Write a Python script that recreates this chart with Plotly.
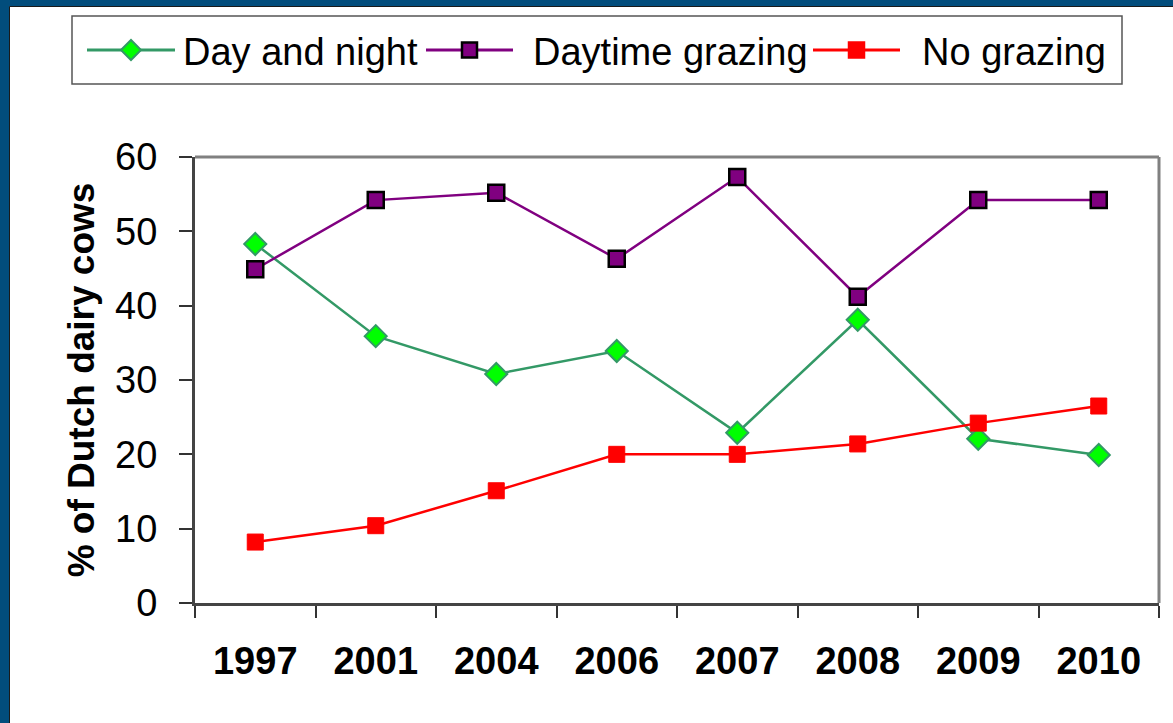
import plotly.graph_objects as go

years = ["1997", "2001", "2004", "2006", "2007", "2008", "2009", "2010"]
day_and_night = [48.3, 35.9, 30.8, 33.9, 22.9, 38.1, 22.1, 19.9]
daytime_grazing = [44.9, 54.2, 55.2, 46.3, 57.3, 41.2, 54.2, 54.2]
no_grazing = [8.2, 10.4, 15.1, 20.0, 20.0, 21.4, 24.2, 26.5]
series_names = ["Day and night", "Daytime grazing", "No grazing"]

W, H = 1173, 723
L, R, T, B = 195, 1159, 157, 603
FONT = "Liberation Sans, Arial, sans-serif"

GREEN_LINE, GREEN_FILL = "#339966", "#00FF00"
PURPLE = "#800080"
RED = "#FF0000"


def px(x):
    return (x - L) / (R - L)


def py(y):
    return (B - y) / (B - T)


fig = go.Figure()
fig.add_trace(go.Scatter(
    x=years, y=day_and_night, name=series_names[0], mode="lines+markers", showlegend=False,
    line=dict(color=GREEN_LINE, width=2.5),
    marker=dict(symbol="diamond", size=17, color=GREEN_FILL, line=dict(color=GREEN_LINE, width=2)),
))
fig.add_trace(go.Scatter(
    x=years, y=daytime_grazing, name=series_names[1], mode="lines+markers", showlegend=False,
    line=dict(color=PURPLE, width=2.5),
    marker=dict(symbol="square", size=16, color=PURPLE, line=dict(color="#000000", width=2.5)),
))
fig.add_trace(go.Scatter(
    x=years, y=no_grazing, name=series_names[2], mode="lines+markers", showlegend=False,
    line=dict(color=RED, width=2.5),
    marker=dict(symbol="square", size=16, color=RED, line=dict(color=RED, width=1)),
))

shapes = [
    # white page inside the blue frame
    dict(type="rect", xref="paper", yref="paper", layer="below",
         x0=px(9.5), x1=px(W + 5), y0=py(H + 5), y1=py(6.5),
         fillcolor="white", line=dict(color="#1a1a1a", width=1)),
    # plot border top and right (gray)
    dict(type="line", xref="paper", yref="paper", x0=0, x1=1, y0=1, y1=1,
         line=dict(color="#808080", width=3)),
    dict(type="line", xref="paper", yref="paper", x0=1, x1=1, y0=0, y1=1,
         line=dict(color="#808080", width=3)),
    # legend box
    dict(type="rect", xref="paper", yref="paper",
         x0=px(72), x1=px(1122), y0=py(84), y1=py(16),
         fillcolor="white", line=dict(color="#555555", width=1.5), layer="below"),
]

# custom legend: line segment, marker, text
LEG_Y = 50
legend_items = [
    # (line x0, line x1, text x, line colour, kind, fill, edge)
    (87, 175, 181, GREEN_LINE, "diamond", GREEN_FILL, GREEN_LINE),
    (426, 513, 531, PURPLE, "square", PURPLE, "#000000"),
    (813, 900, 920, RED, "square", RED, RED),
]
annotations = []
for name, (lx0, lx1, tx, col, kind, fill, edge) in zip(series_names, legend_items):
    shapes.append(dict(type="line", xref="paper", yref="paper",
                       x0=px(lx0), x1=px(lx1), y0=py(LEG_Y), y1=py(LEG_Y),
                       line=dict(color=col, width=3)))
    cx = (lx0 + lx1) / 2
    if kind == "diamond":
        r = 10
        path = "M {} {} L {} {} L {} {} L {} {} Z".format(
            px(cx - r), py(LEG_Y), px(cx), py(LEG_Y - r), px(cx + r), py(LEG_Y), px(cx), py(LEG_Y + r))
        shapes.append(dict(type="path", xref="paper", yref="paper", path=path,
                           fillcolor=fill, line=dict(color=edge, width=2)))
    else:
        r = 7.5
        shapes.append(dict(type="rect", xref="paper", yref="paper",
                           x0=px(cx - r), x1=px(cx + r), y0=py(LEG_Y + r), y1=py(LEG_Y - r),
                           fillcolor=fill, line=dict(color=edge, width=2.5)))
    annotations.append(dict(xref="paper", yref="paper", x=px(tx), y=py(LEG_Y + 2),
                            xanchor="left", yanchor="middle", showarrow=False, text=name,
                            font=dict(family=FONT, size=38, color="black")))

fig.update_layout(
    width=W, height=H,
    margin=dict(l=L, r=W - R, t=T, b=H - B),
    paper_bgcolor="#024D7C",
    plot_bgcolor="white",
    font=dict(family=FONT, color="black"),
    showlegend=False,
    shapes=shapes,
    annotations=annotations,
    xaxis=dict(
        type="category", tickson="boundaries", ticks="outside", ticklen=12,
        tickcolor="#333333", tickwidth=1.5,
        showline=True, linecolor="#444444", linewidth=3,
        showgrid=False, zeroline=False,
        tickfont=dict(size=38, color="black", family=FONT, weight="bold"),
        ticklabelstandoff=22,
        range=[-0.5, 7.5],
    ),
    yaxis=dict(
        range=[0, 60], tickvals=[0, 10, 20, 30, 40, 50, 60], ticks="outside", ticklen=13,
        tickcolor="#333333", tickwidth=1.5,
        showline=True, linecolor="#444444", linewidth=3,
        showgrid=False, zeroline=False,
        tickfont=dict(size=38, color="black"),
        ticklabelstandoff=14,
        title=dict(text="% of Dutch dairy cows", standoff=10,
                   font=dict(size=37, color="black", family=FONT, weight="bold")),
    ),
)

fig.write_html("out.html", config={"displayModeBar": False},
               post_script="document.body.style.margin='0';")
